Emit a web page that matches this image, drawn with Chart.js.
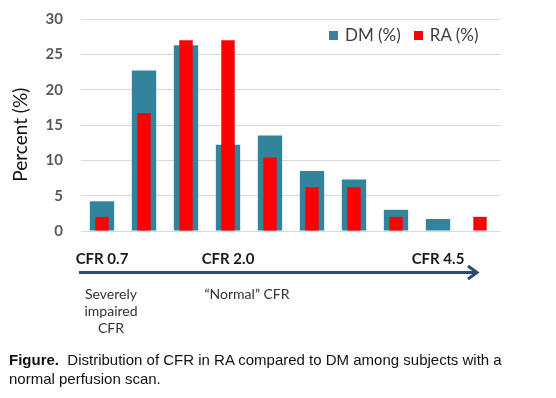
<!DOCTYPE html>
<html>
<head>
<meta charset="utf-8">
<script src="https://cdn.jsdelivr.net/npm/chart.js@4"></script>
<style>
  body { margin: 0; background: #fff; }
  #wrap { position: relative; width: 556px; height: 398px; overflow: hidden; }
  #box { position: absolute; left: 0; top: -8px; width: 556px; height: 293px; }
  .note { position: absolute; font-family: Lato, sans-serif; font-size: 14px; color: #333; text-align: center; line-height: 17px; }
  #legend { position: absolute; left: 329px; top: 25px; font-family: Lato, sans-serif; font-size: 17px; color: #404040; line-height: 20px; white-space: nowrap; }
  #legend i { display: inline-block; width: 9px; height: 9px; margin-right: 7px; vertical-align: 1px; }
  #caption { position: absolute; left: 9px; top: 350px; width: 500px; font-family: "Liberation Sans", Arial, sans-serif; font-size: 15px; line-height: 19px; color: #111; }
</style>
</head>
<body>
<div id="wrap">
  <div id="box"><canvas id="chart"></canvas></div>
  <div id="legend"></div>
  <svg style="position:absolute;left:0;top:0" width="556" height="398">
    <line x1="79" y1="272.5" x2="476" y2="272.5" stroke="#2c4a72" stroke-width="3"/>
    <polyline points="468,266 477,272.5 468,279" fill="none" stroke="#2c4a72" stroke-width="3"/>
  </svg>
  <div class="note" style="left:71px;top:285px;width:80px;">Severely<br>impaired<br>CFR</div>
  <div class="note" style="left:197px;top:285px;width:100px;">“Normal” CFR</div>
  <div id="caption"><b>Figure.</b>&nbsp; Distribution of CFR in RA compared to DM among subjects with a normal perfusion scan.</div>
</div>
<script>
// CFR bins, only some of them carry a label
var tickLabels = ["CFR 0.7", "", "", "CFR 2.0", "", "", "", "", "CFR 4.5", ""];
var dmPercent = [4.2, 22.7, 26.3, 12.2, 13.5, 8.5, 7.3, 3.0, 1.7, 0];
var raPercent = [2.0, 16.7, 27.0, 27.0, 10.4, 6.2, 6.2, 2.0, 0, 2.0];
var seriesNames = ["DM (%)", "RA (%)"];
var seriesColors = ["#31849b", "#ff0000"];

function renderChart() {
  var ctx = document.getElementById("chart").getContext("2d");

  var chart = new Chart(ctx, {
    type: "bar",
    data: {
      labels: tickLabels,
      datasets: [
        {
          label: seriesNames[0],
          data: dmPercent,
          backgroundColor: seriesColors[0],
          grouped: false,
          barPercentage: 0.58,
          categoryPercentage: 1,
          order: 1,
        },
        {
          label: seriesNames[1],
          data: raPercent,
          backgroundColor: seriesColors[1],
          grouped: false,
          barPercentage: 0.32,
          categoryPercentage: 1,
          order: 0,
        },
      ],
    },
    options: {
      responsive: true,
      maintainAspectRatio: false,
      animation: false,
      layout: { padding: { top: 4, right: 55, bottom: 0, left: 0 } },
      plugins: {
        tooltip: { enabled: false },
        legend: { display: false },
      },
      scales: {
        x: {
          grid: { display: false, drawTicks: false },
          border: { display: false },
          ticks: {
            autoSkip: false,
            maxRotation: 0,
            padding: 19,
            color: "#1a1a1a",
            font: { family: "Lato", size: 15, weight: "bold" },
          },
          afterFit: function (scale) { scale.height = 54; },
        },
        y: {
          min: 0,
          max: 30,
          ticks: {
            stepSize: 5,
            padding: 18,
            color: "#595959",
            font: { family: "Lato", size: 15, weight: "bold" },
          },
          grid: { color: "#d9d9d9", drawTicks: false },
          border: { display: false },
          title: {
            display: true,
            text: "Percent (%)\u00a0\u00a0\u00a0\u00a0",
            color: "#111",
            padding: { top: 9, bottom: 0 },
            font: { family: "Lato", size: 19 },
          },
          afterFit: function (scale) { scale.width = 81; },
        },
      },
    },
  });

  // legend sits inside the plot, top right
  var html = "";
  chart.data.datasets.forEach(function (ds, i) {
    html += (i ? "&nbsp;&nbsp;&nbsp;" : "") + '<i style="background:' + ds.backgroundColor + '"></i>' + ds.label;
  });
  document.getElementById("legend").innerHTML = html;
}

renderChart();
</script>
</body>
</html>
